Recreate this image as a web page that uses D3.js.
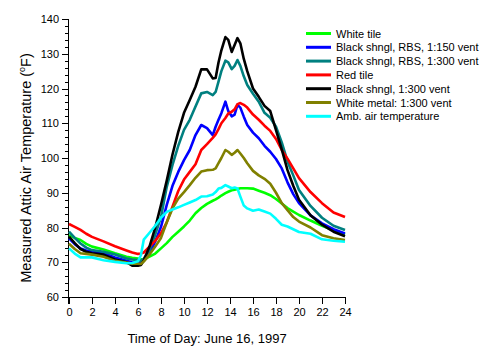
<!DOCTYPE html>
<html>
<head>
<meta charset="utf-8">
<script src="https://cdn.jsdelivr.net/npm/d3@7/dist/d3.min.js"></script>
<style>
  html, body { margin: 0; padding: 0; background: #fff; }
  svg { display: block; }
  text { font-family: Arial, "Liberation Sans", sans-serif; fill: #000; }
</style>
</head>
<body>
<svg id="chart" width="483" height="359"></svg>
<script>
// ---- data ----
const hours = [0,0.5,1,1.5,2,3,4,5,5.5,6,6.25,6.5,7,7.5,8,8.5,9,9.5,10,10.5,11,11.5,12,12.5,12.75,13,13.25,13.6,13.85,14.15,14.4,14.65,14.9,15.2,15.5,16,16.5,17,17.5,18,18.5,19,19.5,20,21,22,23,24];

const whiteTile = [77.8,77,76.4,75.3,74.5,73.7,72.6,71.6,71.3,71.1,70.9,70.8,71.6,72.5,74,75.5,77.3,78.8,80.3,82,84.1,85.6,86.8,87.7,88.1,88.6,89.2,89.9,90.3,90.7,90.9,91.1,91.3,91.3,91.3,91.2,90.6,90,89.3,88.2,86.9,85.6,84.6,83.6,82,80.5,79.2,78];
const blackRbs150 = [76.9,75.2,74,73.4,73,72.6,71.4,70.4,70,69.9,70,70.5,72.6,76,80.2,86.5,92,96,99.4,102.3,106.6,109.5,108.6,106.6,109,111,112.9,116.2,113.5,112,112.5,115.3,114.5,111.9,109.5,107.3,105.7,103.5,101.8,99.7,97,93,89.6,87,83.5,81.2,79.5,78.3];
const blackRbs300 = [78.8,77,75.4,74.2,73.5,73,72.2,71.1,70.8,70.6,70.4,71,73.5,78,83,91.7,98,103.5,108.1,111,114.8,118.6,119,118.1,119,122,125,128,127.5,125.6,126.5,128.2,126.5,123.5,121,118.5,116.2,113,111.6,109,104.5,99,95,90.8,86.2,82.8,80.5,79.3];
const redTile = [81,80.2,79.3,78.2,77.3,76,74.6,73.4,72.8,72.4,72.5,72.8,74.5,76.2,78.3,81.5,86,90.5,93.8,96,98.2,102.3,104,105.8,106.8,108.3,110,111.5,112.8,113.3,114,115.5,115.8,115.3,114.5,112.5,111,109.3,107.8,105.5,102.3,99.8,97,94.2,90.2,87,84.3,83];
const blackShngl300 = [77.4,75.5,73.8,73,72.6,72.2,70.8,70,69,69,69.2,70.5,74.5,80,86.5,93.5,101,107.5,113,116.7,120.5,125.5,125.5,122.9,123,127.5,131,134.8,134,130.5,132.5,134.5,133,128.5,125,120,117.6,115,113.5,108,102.5,96.5,92,88,83.5,80.8,78.8,77.5];
const whiteMetal = [75.3,73.8,72.6,72.4,72.2,71.6,70.4,69.9,69.6,69.6,69.5,70.2,72.2,74.5,77,81.5,85.5,88.3,90.2,92.2,94.3,96.1,96.5,96.6,97,98.5,100,102.3,101.8,100.9,101.5,102.3,101.3,100,98.5,96.3,95,94,92.6,90,87,85,83,81.7,80,77.8,76.9,76.4];
const ambient = [74,72.5,71.4,71.4,71.4,70.6,70.1,69.7,69.8,70.3,72,76.5,78.5,80.5,82.8,84.5,85.2,85.8,86.5,87.2,87.9,88.9,89,89.5,90.2,91.2,91.4,92.2,91.8,91.3,91.5,91.2,88.9,86.3,85.5,84.8,85.2,84.6,84,82.5,80.8,80.3,79.5,78.7,78.2,76.6,76.2,75.9];

const seriesNames = ["White tile","Black shngl, RBS, 1:150 vent","Black shngl, RBS, 1:300 vent","Red tile","Black shngl, 1:300 vent","White metal: 1:300 vent","Amb. air temperature"];
const seriesValues = [whiteTile, blackRbs150, blackRbs300, redTile, blackShngl300, whiteMetal, ambient];
const seriesColors = ["#00ff00","#0000ff","#008080","#ff0000","#000000","#808000","#00ffff"];

const xTicks = [0,2,4,6,8,10,12,14,16,18,20,22,24];
const yTicks = [60,70,80,90,100,110,120,130,140];

// ---- layout ----
const svg = d3.select("#chart");
const x = d3.scaleLinear().domain([0,24]).range([69,345]);
const y = d3.scaleLinear().domain([60,140]).range([297,19]);

// x axis
const xAxis = d3.axisBottom(x).tickValues(xTicks).tickSize(7).tickPadding(4).tickFormat(d3.format("d"));
const gx = svg.append("g").attr("transform","translate(0,297)").call(xAxis);
gx.select(".domain").attr("d", `M${x(0)},0.5H${x(24)}`);

// y axis minor ticks
const yMinor = d3.range(60,141,2).filter(v => v % 10 !== 0);
const gyMinor = svg.append("g").attr("transform","translate(69,0)")
  .call(d3.axisLeft(y).tickValues(yMinor).tickSize(4).tickFormat(""));
gyMinor.select(".domain").remove();

const yAxis = d3.axisLeft(y).tickValues(yTicks).tickSize(7).tickPadding(3).tickFormat(d3.format("d"));
const gy = svg.append("g").attr("transform","translate(69,0)").call(yAxis);
gy.select(".domain").attr("d", `M-0.5,${y(140)}V${y(60)+7}`);

svg.selectAll(".tick text").attr("font-size", 11).attr("font-family","Arial, 'Liberation Sans', sans-serif");
svg.selectAll(".domain, .tick line").attr("stroke","#000").attr("shape-rendering","crispEdges");

// lines
const line = d3.line().x((d,i) => x(hours[i])).y(d => y(d));
seriesValues.forEach((vals, k) => {
  svg.append("path").datum(vals)
    .attr("d", line)
    .attr("fill","none")
    .attr("stroke", seriesColors[k])
    .attr("stroke-width", 2.6)
    .attr("stroke-linejoin","round");
});

// titles
svg.append("text").attr("x", 207).attr("y", 343).attr("text-anchor","middle")
  .attr("font-size", 13).text("Time of Day: June 16, 1997");

const yt = svg.append("text").attr("transform","translate(31,168) rotate(-90)")
  .attr("text-anchor","middle").attr("font-size", 14.5);
yt.append("tspan").text("Measured Attic Air Temperature (");
yt.append("tspan").attr("font-size", 9).attr("dy", -6).text("o");
yt.append("tspan").attr("dy", 6).text("F)");

// legend
const lg = svg.append("g");
seriesNames.forEach((name, k) => {
  const yy = 33.5 + k * 13.8;
  lg.append("line").attr("x1", 306).attr("x2", 331).attr("y1", yy).attr("y2", yy)
    .attr("stroke", seriesColors[k]).attr("stroke-width", 3);
  lg.append("text").attr("x", 336).attr("y", yy + 4).attr("font-size", 11).text(name);
});
</script>
</body>
</html>
